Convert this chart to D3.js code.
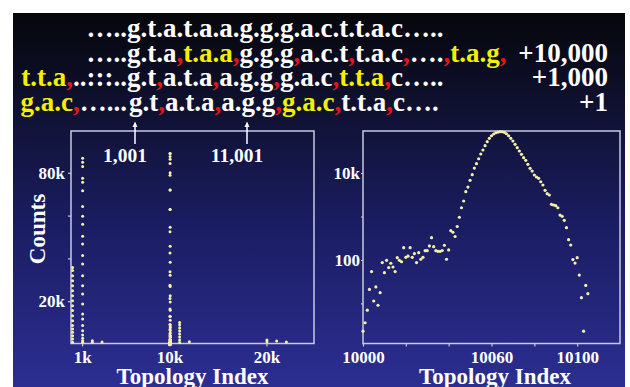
<!DOCTYPE html>
<html>
<head>
<meta charset="utf-8">
<script src="https://cdn.jsdelivr.net/npm/d3@7"></script>
<style>
  body { margin: 0; background: #fff; }
  svg text { font-family: "Liberation Serif", "Times New Roman", serif; font-weight: bold; }
</style>
</head>
<body>
<svg id="chart" width="630" height="387"></svg>
<script>
// ---- data ----
// topology peak around 10000..10105 (shown in both panels)
const peakStart = 10000;
const peakCounts = [
  2.3, 3.6, 7, 21, 54, 11.4, 24, 9.1, 17.7, 87,
  51, 98, 67, 84, 69, 54, 113, 98, 91, 192,
  115, 122, 192, 115, 140, 87, 147, 104, 115, 164,
  164, 210, 326, 202, 164, 158, 158, 165, 218, 104,
  170, 472, 434, 347, 589, 960, 1590, 2270, 3720, 4760,
  6790, 9140, 13000, 16400, 21300, 27400, 33800, 42500, 52500, 62800,
  72000, 78900, 84400, 87600, 89000, 89000, 86300, 80000, 72000, 62800,
  54500, 45700, 38200, 32100, 26900, 22500, 19600, 15800, 12800, 11100,
  9000, 8090, 7550, 6300, 5300, 4000, 3340, 3120, 1900, 1840,
  1770, 1590, 1080, 1010, 818, 553, 293, 221, 102, 85,
  113, 45, 13.6, 2.3, 26, 16.8
];

// other peaks, only in the linear (left) panel
const colIndex = [10, 1050, 11050];
const colCounts = [
  [35800, 34300, 31900, 29600, 27200, 24900, 22600, 20200, 17900, 15600, 13200, 10900, 8600, 7000, 5500, 3900, 2300, 800],
  [86800, 84900, 83000, 77400, 75600, 71600, 64300, 59700, 56000, 50300, 46700, 41300, 37400, 31900, 27200, 23400, 18700, 14000, 11700, 8600, 6200, 4200, 2700, 1500, 800],
  [10100, 8900, 7500, 6100, 4700, 3300, 1900, 700]
];
const sparseIndex = [2050, 2050, 3050, 12050, 20050, 20050, 21050, 22050];
const sparseCounts = [1500, 800, 900, 1100, 1900, 1000, 1400, 900];

const leftXTicks = [1000, 10000, 20000];
const leftXLabels = ["1k", "10k", "20k"];
const leftYTicks = [20000, 40000, 60000, 80000];
const leftYLabels = ["20k", "", "", "80k"];
const rightXTicks = [10000, 10020, 10040, 10060, 10080, 10100];
const rightXLabels = ["10000", "", "", "10060", "", "10100"];
const rightYTicks = [10, 100, 1000, 10000];
const rightYLabels = ["", "100", "", "10k"];

// sequence header: [text, colour key]
const seqLines = [
  { pre: [["\u2026..", "w"]],
    main: [["g.t.a.t.a.a.g.g.g.a.c.t.t.a.c\u2026..", "w"]],
    num: "" },
  { pre: [["\u2026..", "w"]],
    main: [["g.t.a", "w"], [",", "r"], ["t.a.a", "y"], [",", "r"], ["g.g.g", "w"], [",", "r"],
           ["a.c.t", "w"], [",", "r"], ["t.a.c", "w"], [",", "r"], ["\u2026.", "w"], [",", "r"],
           ["t.a.g", "y"], [",", "r"]],
    num: "+10,000" },
  { pre: [["t.t.a", "y"], [",", "r"], ["..:::..", "w"]],
    main: [["g.t", "w"], [",", "r"], ["a.t.a", "w"], [",", "r"], ["a.g.g", "w"], [",", "r"],
           ["g.a.c", "w"], [",", "r"], ["t.t.a", "y"], [",", "r"], ["c\u2026..", "w"]],
    num: "+1,000" },
  { pre: [["g.a.c", "y"], [",", "r"], ["\u2026...", "w"]],
    main: [["g.t", "w"], [",", "r"], ["a.t.a", "w"], [",", "r"], ["a.g.g", "w"], [",", "r"],
           ["g.a.c", "y"], [",", "r"], ["t.t.a", "w"], [",", "r"], ["c\u2026.", "w"]],
    num: "+1" }
];
const seqColour = { w: "#ffffff", y: "#f4f000", r: "#e4141c" };

// ---- layout ----
const H = 387;
const boxTop = 131, boxBottom = 343.5;
const leftBox = { x0: 71, x1: 314 };
const rightBox = { x0: 363, x1: 620 };
const dotColour = "#f5f1a8";
const lineColour = "#c9c9df";

const svg = d3.select("#chart");

const defs = svg.append("defs");
const grad = defs.append("linearGradient").attr("id", "bg")
  .attr("x1", 0).attr("y1", 0).attr("x2", 0).attr("y2", 1);
grad.append("stop").attr("offset", "0%").attr("stop-color", "#06060b");
grad.append("stop").attr("offset", "25%").attr("stop-color", "#0f1130");
grad.append("stop").attr("offset", "55%").attr("stop-color", "#1a1c60");
grad.append("stop").attr("offset", "100%").attr("stop-color", "#2c2e92");

svg.append("rect").attr("x", 13).attr("y", 13).attr("width", 612).attr("height", H - 13)
  .attr("fill", "url(#bg)");

// header sequences
const seqX = 127, seqY0 = 37, seqDy = 24.5, numX = 608;
seqLines.forEach((ln, i) => {
  const y = seqY0 + i * seqDy;
  const pre = svg.append("text").attr("x", seqX).attr("y", y)
    .attr("text-anchor", "end").style("font-size", "27px");
  ln.pre.forEach(s => pre.append("tspan").attr("fill", seqColour[s[1]]).text(s[0]));
  const main = svg.append("text").attr("x", seqX + (i === 3 ? 2 : 0)).attr("y", y).style("font-size", "27px");
  ln.main.forEach(s => main.append("tspan").attr("fill", seqColour[s[1]]).text(s[0]));
  if (ln.num) {
    svg.append("text").attr("x", numX).attr("y", y).attr("text-anchor", "end")
      .attr("fill", "#fff").style("font-size", "27px").text(ln.num);
  }
});

// ---- scales ----
const xL = d3.scaleLinear().domain([-150, 24900]).range([leftBox.x0, leftBox.x1]);
const yL = d3.scaleLinear().domain([0, 100000]).range([344, 130]);
const xR = d3.scaleLinear().domain([10000, 10120]).range([rightBox.x0, rightBox.x1]);
const yR = d3.scaleLog().domain([1.2, 92500]).range([boxBottom, boxTop]);

function styleAxis(g, size) {
  g.select(".domain").remove();
  g.selectAll("line").attr("stroke", lineColour).attr("stroke-width", 1.2);
  g.selectAll("text").attr("fill", "#fff")
    .style("font-size", size + "px")
    .style("font-family", "'Liberation Serif', 'Times New Roman', serif")
    .style("font-weight", "bold");
}

// left panel axes
svg.append("g").attr("transform", `translate(0,${boxBottom})`)
  .call(d3.axisBottom(xL).tickValues(leftXTicks).tickSize(3).tickPadding(4.5)
    .tickFormat((d, i) => leftXLabels[i]))
  .call(g => styleAxis(g, 17));
svg.append("g").attr("transform", `translate(${leftBox.x0},0)`)
  .call(d3.axisLeft(yL).tickValues(leftYTicks).tickSize(3).tickPadding(3)
    .tickFormat((d, i) => leftYLabels[i]))
  .call(g => styleAxis(g, 17));

// right panel axes
svg.append("g").attr("transform", `translate(0,${boxBottom})`)
  .call(d3.axisBottom(xR).tickValues(rightXTicks).tickSize(3).tickPadding(4.5)
    .tickFormat((d, i) => rightXLabels[i]))
  .call(g => styleAxis(g, 17));
svg.append("g").attr("transform", `translate(${rightBox.x0},0)`)
  .call(d3.axisLeft(yR).tickValues(rightYTicks).tickSize(2).tickPadding(1)
    .tickFormat((d, i) => rightYLabels[i]))
  .call(g => styleAxis(g, 17));

// boxes
[leftBox, rightBox].forEach(b => {
  svg.append("rect").attr("x", b.x0).attr("y", boxTop)
    .attr("width", b.x1 - b.x0).attr("height", boxBottom - boxTop)
    .attr("fill", "none").attr("stroke", lineColour).attr("stroke-width", 1.5);
});

// ---- points ----
const peakPts = peakCounts.map((c, i) => ({ x: peakStart + i, y: c }));
const leftPts = peakPts.slice();
colIndex.forEach((ix, k) => colCounts[k].forEach(c => leftPts.push({ x: ix, y: c })));
sparseIndex.forEach((ix, k) => leftPts.push({ x: ix, y: sparseCounts[k] }));

svg.append("g").selectAll("circle").data(leftPts).join("circle")
  .attr("cx", d => xL(d.x)).attr("cy", d => yL(d.y))
  .attr("r", 1.5).attr("fill", dotColour);

svg.append("g").selectAll("circle").data(peakPts).join("circle")
  .attr("cx", d => xR(d.x)).attr("cy", d => yR(d.y))
  .attr("r", 1.6).attr("fill", dotColour);

// ---- labels (the reference crops their bottoms at the page edge) ----
svg.append("text").attr("x", (leftBox.x0 + leftBox.x1) / 2).attr("y", 383.5)
  .attr("text-anchor", "middle").attr("fill", "#fff").style("font-size", "23px")
  .text("Topology Index");
svg.append("text").attr("x", 495).attr("y", 383.5)
  .attr("text-anchor", "middle").attr("fill", "#fff").style("font-size", "23px")
  .text("Topology Index");
svg.append("text").attr("transform", "translate(45,229) rotate(-90)")
  .attr("text-anchor", "middle").attr("fill", "#fff").style("font-size", "23px")
  .text("Counts");

// arrows from the sequence to the two marked topologies
const marks = [{ x: 135, lx: 125, label: "1,001" }, { x: 247, lx: 237, label: "11,001" }];
marks.forEach(m => {
  svg.append("line").attr("x1", m.x).attr("x2", m.x).attr("y1", 144).attr("y2", 124)
    .attr("stroke", "#fff").attr("stroke-width", 1.5);
  svg.append("path").attr("d", `M${m.x - 2.5},127 L${m.x},121.5 L${m.x + 2.5},127 Z`)
    .attr("fill", "#fff");
  svg.append("text").attr("x", m.lx).attr("y", 162).attr("text-anchor", "middle")
    .attr("fill", "#fff").style("font-size", "19.5px").text(m.label);
});
</script>
</body>
</html>
